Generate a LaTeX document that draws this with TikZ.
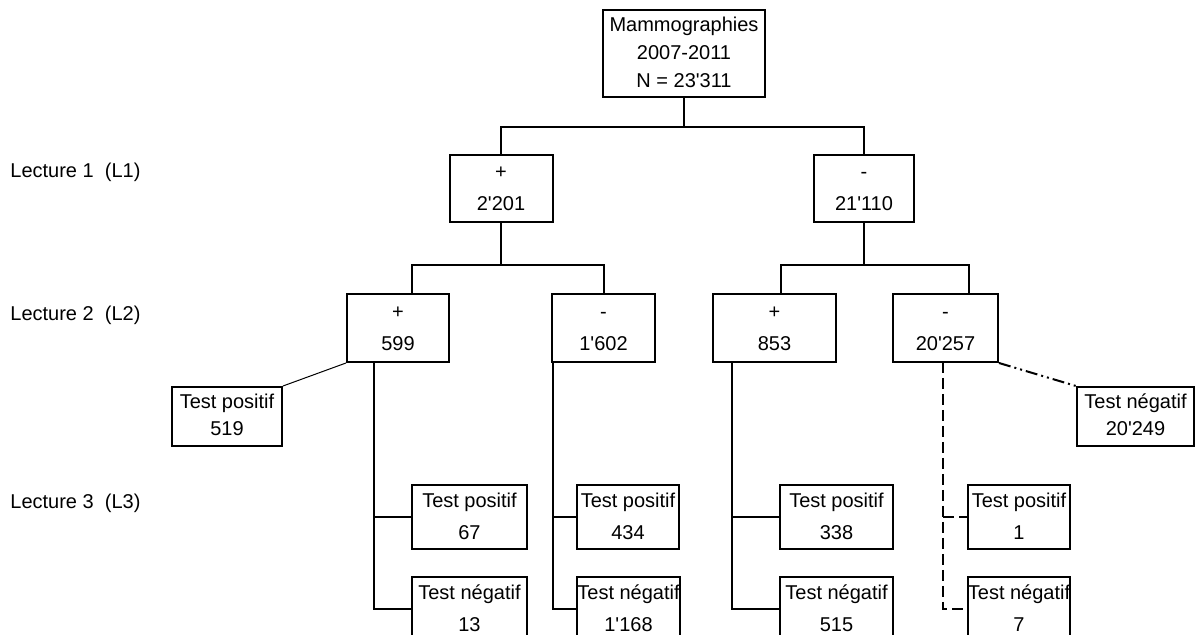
\documentclass[tikz,border=0pt]{standalone}
\usepackage{fontspec}
\setmainfont{Liberation Sans}
\newcommand{\apo}{\textquotesingle}
\newcommand{\twoline}[2]{\makebox[0pt]{\strut#1}\\\makebox[0pt]{\strut#2}}

\begin{document}
\begin{tikzpicture}[x=0.5pt,y=-0.5pt,
    box/.style={draw,line width=1pt,align=center,inner sep=0pt,font=\fontsize{10}{16}\selectfont},
    side/.style={box,font=\fontsize{10}{13.5}\selectfont},
    link/.style={line width=1pt},
    dlink/.style={line width=1pt,dash pattern=on 5.5pt off 2.5pt},
    lbl/.style={anchor=west,inner sep=0pt,font=\fontsize{10}{12}\selectfont}]
    \clip (0,0) rectangle (1196,635);
    % reading levels
    \node[lbl] (lec1) at (10,172) {Lecture 1\ \ (L1)};
    \node[lbl] (lec2) at (10,315) {Lecture 2\ \ (L2)};
    \node[lbl] (lec3) at (10,503) {Lecture 3\ \ (L3)};
    % root
    \node[box,line width=1.2pt,font=\fontsize{10}{14}\selectfont,minimum width=81pt,minimum height=43.5pt] (root) at (684,53.5)
        {\makebox[0pt]{\strut Mammographies}\\\makebox[0pt]{\strut 2007-2011}\\\makebox[0pt]{\strut N = 23\apo 311}};
    % L1
    \node[box,minimum width=51.5pt,minimum height=33.5pt] (l1p) at (501,188.5) {\twoline{+}{2\apo 201}};
    \node[box,minimum width=50pt,minimum height=33.5pt] (l1m) at (864,188.5) {\twoline{-}{21\apo 110}};
    % L2
    \node[box,minimum width=51pt,minimum height=34pt] (l2pp) at (398,328) {\twoline{+}{599}};
    \node[box,minimum width=51.5pt,minimum height=34pt] (l2pm) at (603.5,328) {\twoline{-}{1\apo 602}};
    \node[box,minimum width=61.5pt,minimum height=34pt] (l2mp) at (774.5,328) {\twoline{+}{853}};
    \node[box,minimum width=52.5pt,minimum height=34pt] (l2mm) at (945.5,328) {\twoline{-}{20\apo 257}};
    % side results
    \node[side,minimum width=55pt,minimum height=29.5pt] (sp) at (227,416.5) {\twoline{Test positif}{519}};
    \node[side,minimum width=58.5pt,minimum height=29.5pt] (sn) at (1135.5,416.5) {\twoline{Test négatif}{20\apo 249}};
    % L3
    \node[box,minimum width=57.5pt,minimum height=31.5pt] (t1p) at (469.5,517.5) {\twoline{Test positif}{67}};
    \node[box,minimum width=57.5pt,minimum height=30pt] (t1n) at (469.5,609) {\twoline{Test négatif}{13}};
    \node[box,minimum width=51pt,minimum height=31.5pt] (t2p) at (628,517.5) {\twoline{Test positif}{434}};
    \node[box,minimum width=51.5pt,minimum height=30pt] (t2n) at (628.5,609) {\twoline{Test négatif}{1\apo 168}};
    \node[box,minimum width=56.5pt,minimum height=31.5pt] (t3p) at (836.5,517.5) {\twoline{Test positif}{338}};
    \node[box,minimum width=56.5pt,minimum height=30pt] (t3n) at (836.5,609) {\twoline{Test négatif}{515}};
    \node[box,minimum width=51pt,minimum height=31.5pt] (t4p) at (1019,517.5) {\twoline{Test positif}{1}};
    \node[box,minimum width=51pt,minimum height=30pt] (t4n) at (1019,609) {\twoline{Test négatif}{7}};
    % tree connectors
    \coordinate (j0) at (684,127);
    \coordinate (j1) at (501,265);
    \coordinate (j2) at (864,265);
    \coordinate (a1) at (412,294);
    \coordinate (a4) at (781,294);
    \coordinate (a5) at (969,294);
    \draw[link] (root.south) -- (j0);
    \draw[link] (l1p.north) |- (j0) -| (l1m.north);
    \draw[link] (l1p.south) -- (j1);
    \draw[link] (a1) |- (j1) -| (l2pm.north);
    \draw[link] (l1m.south) -- (j2);
    \draw[link] (a4) |- (j2) -| (a5);
    % branches to L3
    \coordinate (v1) at (374,362);
    \coordinate (v2) at (553,362);
    \coordinate (v3) at (732,362);
    \coordinate (v4) at (943,362);
    \draw[link] (v1) |- (t1n.west);
    \draw[link] (v1 |- t1p.west) -- (t1p.west);
    \draw[link] (v2) |- (t2n.west);
    \draw[link] (v2 |- t2p.west) -- (t2p.west);
    \draw[link] (v3) |- (t3n.west);
    \draw[link] (v3 |- t3p.west) -- (t3p.west);
    \draw[dlink] (v4) |- (t4n.west);
    \draw[dlink] (v4 |- t4p.west) -- (t4p.west);
    % side links
    \draw[line width=0.5pt] (l2pp.south west) -- (sp.north east);
    \draw[line width=1pt,dash pattern=on 6pt off 2pt on 1pt off 2pt on 1pt off 2pt] (l2mm.south east) -- (sn.north west);
\end{tikzpicture}
\end{document}
